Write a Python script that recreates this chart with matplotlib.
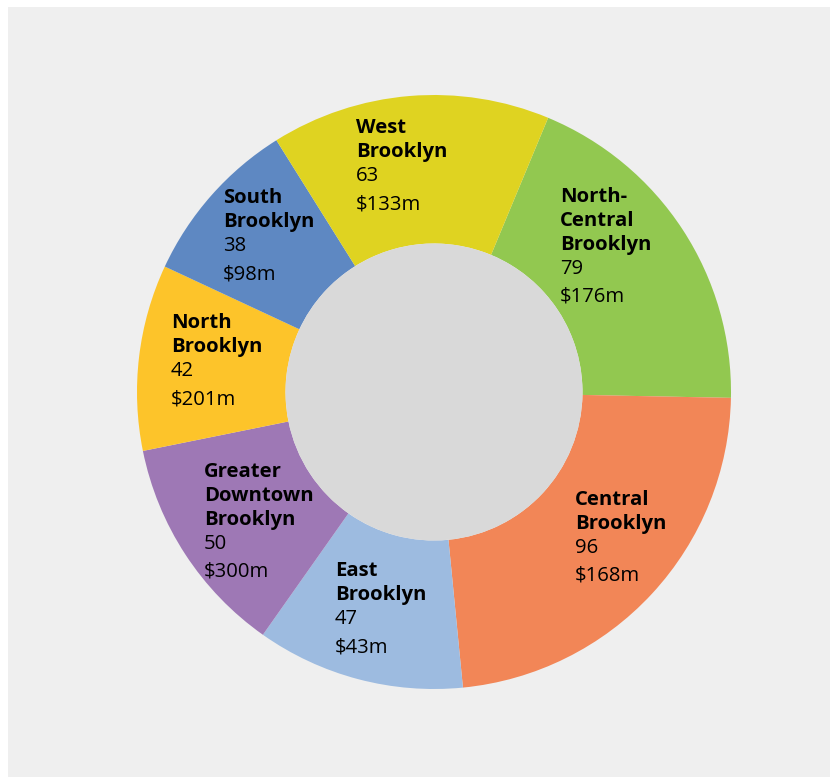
import numpy as np
import matplotlib
matplotlib.use('Agg')
import matplotlib.pyplot as plt
from matplotlib.patches import Circle

plt.rcParams['font.family'] = ['Open Sans', 'DejaVu Sans']

# data, clockwise from the top right
regions = ['North-\nCentral\nBrooklyn', 'Central\nBrooklyn', 'East\nBrooklyn',
           'Greater\nDowntown\nBrooklyn', 'North\nBrooklyn', 'South\nBrooklyn',
           'West\nBrooklyn']
counts = [79, 96, 47, 50, 42, 38, 63]
amounts = ['$176m', '$168m', '$43m', '$300m', '$201m', '$98m', '$133m']

colors = ['#92C850', '#F28657', '#9DBBE0', '#9E78B5', '#FDC42A', '#5E88C2', '#DFD321']
# left edge / first baseline of each label, in units of the outer radius
label_pos = [(0.424, 0.640), (0.475, -0.380), (-0.333, -0.620), (-0.774, -0.286),
             (-0.886, 0.215), (-0.710, 0.636), (-0.263, 0.872)]

W, H = 830, 777
cx, cy, R = 434, 392, 297

fig = plt.figure(figsize=(W / 100, H / 100), dpi=100, facecolor='white')
bg = fig.add_axes([8 / W, 0, 1 - 8 / W, 1 - 7 / H], zorder=-5)
bg.set_facecolor('#EFEFEF')
bg.set_xticks([])
bg.set_yticks([])
for s in bg.spines.values():
    s.set_visible(False)

ax = fig.add_axes([0, 0, 1, 1], zorder=1)
ax.set_facecolor('none')
ax.pie(counts, colors=colors, startangle=67.4, counterclock=False, radius=1,
       wedgeprops=dict(width=0.5, edgecolor='none', linewidth=0))
ax.add_patch(Circle((0, 0), 0.5, facecolor='#D9D9D9', edgecolor='none', zorder=3))

ax.set_aspect('auto')
ax.set_xlim(-cx / R, (W - cx) / R)
ax.set_ylim(-(H - cy) / R, cy / R)
ax.axis('off')

line_px = 24
fs = 14.6
for name, n, amt, (x, y) in zip(regions, counts, amounts, label_pos):
    lines = name.split('\n')
    off = 0
    for ln in lines:
        ax.annotate(ln, (x, y), xytext=(0, -off * 0.72), textcoords='offset points',
                    ha='left', va='baseline', fontsize=fs, fontweight='bold',
                    color='black', zorder=5)
        off += line_px
    ax.annotate(str(n), (x, y), xytext=(0, -off * 0.72), textcoords='offset points',
                ha='left', va='baseline', fontsize=fs, color='black', zorder=5)
    off += 28
    ax.annotate(amt, (x, y), xytext=(0, -off * 0.72), textcoords='offset points',
                ha='left', va='baseline', fontsize=fs, color='black', zorder=5)

fig.savefig('out.png', dpi=100, facecolor='white')
